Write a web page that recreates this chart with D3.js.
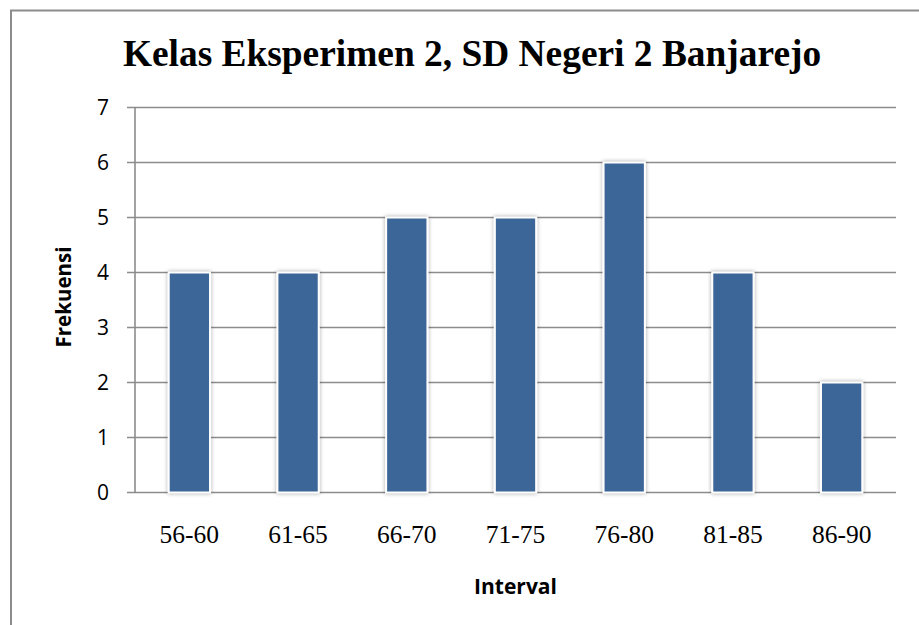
<!DOCTYPE html>
<html>
<head>
<meta charset="utf-8">
<script src="https://cdn.jsdelivr.net/npm/d3@7"></script>
<style>
  body { margin: 0; background: #fff; }
  svg { display: block; }
</style>
</head>
<body>
<div id="chart"></div>
<script>
const intervals = ["56-60", "61-65", "66-70", "71-75", "76-80", "81-85", "86-90"];
const frequencies = [4, 4, 5, 5, 6, 4, 2];
const yTicks = [0, 1, 2, 3, 4, 5, 6, 7];

const width = 919;
const height = 625;
const plot = { left: 135, right: 896, top: 107.5, bottom: 492.5 };

const svg = d3.select("#chart")
  .append("svg")
  .attr("width", width)
  .attr("height", height);

const defs = svg.append("defs");
const shadow = defs.append("filter")
  .attr("id", "barShadow")
  .attr("x", "-30%").attr("y", "-10%")
  .attr("width", "160%").attr("height", "120%");
shadow.append("feGaussianBlur").attr("in", "SourceAlpha").attr("stdDeviation", 2.2);
shadow.append("feComponentTransfer")
  .append("feFuncA").attr("type", "linear").attr("slope", 0.35);
const merge = shadow.append("feMerge");
merge.append("feMergeNode");
merge.append("feMergeNode").attr("in", "SourceGraphic");

// outer chart border (only top and left visible in frame)
svg.append("path")
  .attr("d", `M11,${height + 2}V10.5H${width + 2}`)
  .attr("fill", "none")
  .attr("stroke", "#8c8c8c")
  .attr("stroke-width", 2);

const x = d3.scaleBand()
  .domain(intervals)
  .range([plot.left, plot.right])
  .paddingInner(0.62)
  .paddingOuter(0.31);

const y = d3.scaleLinear()
  .domain([0, 7])
  .range([plot.bottom, plot.top]);

// gridlines + y ticks
const grid = svg.append("g");
grid.selectAll("line")
  .data(yTicks)
  .join("line")
  .attr("x1", plot.left - 8)
  .attr("x2", plot.right)
  .attr("y1", d => y(d))
  .attr("y2", d => y(d))
  .attr("stroke", "#8c8c8c")
  .attr("stroke-width", 1.6);

svg.append("line")
  .attr("x1", plot.left).attr("x2", plot.left)
  .attr("y1", plot.top).attr("y2", plot.bottom)
  .attr("stroke", "#8c8c8c")
  .attr("stroke-width", 1.6);

svg.append("g")
  .selectAll("text")
  .data(yTicks)
  .join("text")
  .attr("x", 109)
  .attr("y", d => y(d))
  .attr("dy", "0.36em")
  .attr("text-anchor", "end")
  .attr("font-family", "'Open Sans', sans-serif")
  .attr("font-size", 21)
  .attr("fill", "#000")
  .text(d => d);

// bars
svg.append("g")
  .selectAll("rect")
  .data(frequencies)
  .join("rect")
  .attr("x", (d, i) => x(intervals[i]))
  .attr("y", d => y(d))
  .attr("width", x.bandwidth())
  .attr("height", d => y(0) - y(d))
  .attr("fill", "#3d6698")
  .attr("stroke", "#fff")
  .attr("stroke-width", 2)
  .attr("filter", "url(#barShadow)");

// x tick labels
svg.append("g")
  .selectAll("text")
  .data(intervals)
  .join("text")
  .attr("x", d => x(d) + x.bandwidth() / 2)
  .attr("y", 542.5)
  .attr("text-anchor", "middle")
  .attr("font-family", "'Liberation Serif', 'Times New Roman', serif")
  .attr("font-size", 25.5)
  .attr("fill", "#000")
  .text(d => d);

// title
svg.append("text")
  .attr("x", 472)
  .attr("y", 66)
  .attr("text-anchor", "middle")
  .attr("font-family", "'Liberation Serif', 'Times New Roman', serif")
  .attr("font-weight", "bold")
  .attr("font-size", 37.4)
  .attr("fill", "#000")
  .text("Kelas Eksperimen 2, SD Negeri 2 Banjarejo");

// axis titles
svg.append("text")
  .attr("x", (plot.left + plot.right) / 2)
  .attr("y", 594)
  .attr("text-anchor", "middle")
  .attr("font-family", "'Open Sans', sans-serif")
  .attr("font-weight", "bold")
  .attr("font-size", 21)
  .attr("fill", "#000")
  .text("Interval");

svg.append("text")
  .attr("transform", "translate(71,297) rotate(-90)")
  .attr("text-anchor", "middle")
  .attr("font-family", "'Open Sans', sans-serif")
  .attr("font-weight", "bold")
  .attr("font-size", 20.5)
  .attr("fill", "#000")
  .text("Frekuensi");
</script>
</body>
</html>
